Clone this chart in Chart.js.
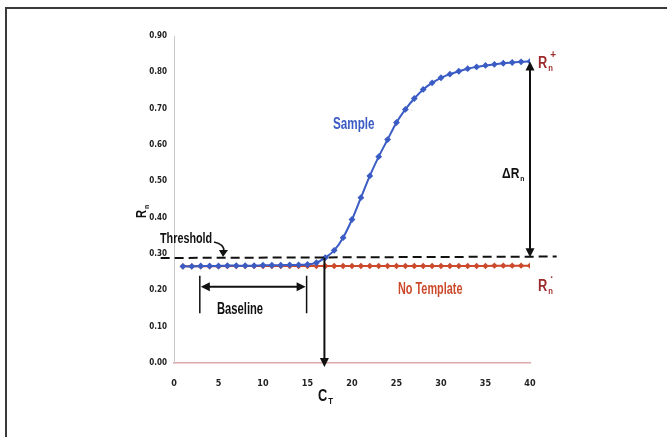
<!DOCTYPE html>
<html>
<head>
<meta charset="utf-8">
<script src="https://cdn.jsdelivr.net/npm/chart.js@4.4.1/dist/chart.umd.min.js"></script>
<style>
  body { margin: 0; background: #fff; overflow: hidden; }
  #wrap { position: relative; width: 667px; height: 437px; }
  #frame { position: absolute; left: 5px; top: 7px; width: 680px; height: 440px; border: 2px solid #3a3a3a; box-sizing: border-box; }
  canvas { position: absolute; left: 0; top: 0; }
</style>
</head>
<body>
<div id="wrap">
  <div id="frame"></div>
  <canvas id="c" width="667" height="437"></canvas>
</div>
<script>
// ============ DATA ============
const CYCLES = [1,2,3,4,5,6,7,8,9,10,11,12,13,14,15,16,17,18,19,20,21,22,23,24,25,26,27,28,29,30,31,32,33,34,35,36,37,38,39,40];
const SAMPLE = [0.266,0.266,0.267,0.267,0.267,0.268,0.268,0.268,0.268,0.269,0.269,0.269,0.270,0.270,0.271,0.276,0.290,0.310,0.345,0.395,0.455,0.515,0.568,0.615,0.662,0.698,0.728,0.753,0.771,0.785,0.795,0.803,0.810,0.815,0.819,0.822,0.825,0.827,0.829,0.830];
const NO_TEMPLATE = [0.266,0.266,0.266,0.266,0.266,0.267,0.267,0.267,0.267,0.267,0.267,0.267,0.267,0.267,0.267,0.267,0.267,0.267,0.267,0.267,0.267,0.267,0.267,0.267,0.267,0.267,0.267,0.267,0.267,0.267,0.267,0.267,0.267,0.267,0.267,0.268,0.268,0.268,0.268,0.268];
const THRESHOLD_X = [-1.5, 43];
const THRESHOLD_Y = [0.289, 0.293];
const Y_TICKS = [0, 0.1, 0.2, 0.3, 0.4, 0.5, 0.6, 0.7, 0.8, 0.9];
const X_TICKS = [0, 5, 10, 15, 20, 25, 30, 35, 40];
const CT = 16.9;
const BASELINE = [2.9, 14.9];

const FONT = '"DejaVu Sans Condensed", "Liberation Sans", sans-serif';
const TFONT = '"Liberation Sans", Arial, sans-serif';
const BLUE = "#3a5cc4";
const RED = "#cc4a2c";
const DARKRED = "#9e2b2b";

function pts(xs, ys) { return xs.map((x, i) => ({ x, y: ys[i] })); }

// ============ ANNOTATIONS ============
function arrowHead(ctx, x, y, dir) {
  ctx.beginPath();
  const s = 9, w = 4.5;
  if (dir === "down") { ctx.moveTo(x, y); ctx.lineTo(x - w, y - s); ctx.lineTo(x + w, y - s); }
  if (dir === "up") { ctx.moveTo(x, y); ctx.lineTo(x - w, y + s); ctx.lineTo(x + w, y + s); }
  if (dir === "left") { ctx.moveTo(x, y); ctx.lineTo(x + s, y - w); ctx.lineTo(x + s, y + w); }
  if (dir === "right") { ctx.moveTo(x, y); ctx.lineTo(x - s, y - w); ctx.lineTo(x - s, y + w); }
  ctx.closePath();
  ctx.fill();
}

// narrow bold text, squeezed horizontally; x is the left edge
function narrow(ctx, text, x, y, size, color, sx) {
  ctx.save();
  ctx.translate(x, y);
  ctx.scale(sx, 1);
  ctx.fillStyle = color;
  ctx.textAlign = "left";
  ctx.textBaseline = "alphabetic";
  ctx.font = "bold " + size + "px " + TFONT;
  ctx.fillText(text, 0, 0);
  const w = ctx.measureText(text).width * sx;
  ctx.restore();
  return w;
}

function subText(ctx, base, sub, sup, x, y, size, color) {
  const w = narrow(ctx, base, x, y, size, color, 0.8);
  const small = Math.round(size * 0.55);
  if (sub) narrow(ctx, sub, x + w + 1, y + 3, small, color, 0.85);
  if (sup) narrow(ctx, sup, x + w + 3, y - size * 0.6, small + 2, color, 0.9);
}

const annotations = {
  id: "annotations",
  afterDatasetsDraw(chart) {
    const { ctx, scales: { x, y } } = chart;
    ctx.save();
    ctx.strokeStyle = "#111";
    ctx.fillStyle = "#111";
    ctx.lineWidth = 2;

    // Ct arrow
    const cx = x.getPixelForValue(CT);
    ctx.beginPath();
    ctx.moveTo(cx, y.getPixelForValue(0.29));
    ctx.lineTo(cx, y.getPixelForValue(0) - 4);
    ctx.stroke();
    arrowHead(ctx, cx, y.getPixelForValue(0) + 4, "down");

    // Delta Rn arrow
    const dx = x.getPixelForValue(40);
    const yTop = y.getPixelForValue(SAMPLE[SAMPLE.length - 1]);
    const yBot = y.getPixelForValue(0.291);
    ctx.beginPath();
    ctx.moveTo(dx, yTop + 6);
    ctx.lineTo(dx, yBot - 6);
    ctx.stroke();
    arrowHead(ctx, dx, yTop, "up");
    arrowHead(ctx, dx, yBot, "down");

    // Baseline bracket
    const b1 = x.getPixelForValue(BASELINE[0]);
    const b2 = x.getPixelForValue(BASELINE[1]);
    const bt = y.getPixelForValue(0.24), bb = y.getPixelForValue(0.137);
    const by = y.getPixelForValue(0.21);
    ctx.lineWidth = 1.5;
    ctx.beginPath();
    ctx.moveTo(b1, bt); ctx.lineTo(b1, bb);
    ctx.moveTo(b2, bt); ctx.lineTo(b2, bb);
    ctx.stroke();
    ctx.lineWidth = 2;
    ctx.beginPath();
    ctx.moveTo(b1 + 5, by); ctx.lineTo(b2 - 5, by);
    ctx.stroke();
    arrowHead(ctx, b1 + 1, by, "left");
    arrowHead(ctx, b2 - 1, by, "right");

    // Threshold label with hook arrow
    narrow(ctx, "Threshold", 160, 243, 15, "#111", 0.72);
    ctx.lineWidth = 1.5;
    ctx.beginPath();
    ctx.moveTo(214, 242);
    ctx.quadraticCurveTo(224, 244, 224, 251);
    ctx.stroke();
    ctx.beginPath();
    ctx.moveTo(223, 257); ctx.lineTo(219, 250); ctx.lineTo(228, 250);
    ctx.closePath(); ctx.fill();

    // Text labels
    narrow(ctx, "Baseline", 217, 314, 16, "#111", 0.7);
    narrow(ctx, "Sample", 333, 129, 16, BLUE, 0.73);
    narrow(ctx, "No Template", 398, 294, 16, RED, 0.68);

    subText(ctx, "\u0394R", "n", null, 502, 178, 15, "#111");
    subText(ctx, "C", "T", null, 318, 401, 16, "#111");
    subText(ctx, "R", "n", "+", 538, 68, 16, DARKRED);
    subText(ctx, "R", "n", "\u00b7", 538, 291, 16, DARKRED);

    // y axis title
    ctx.save();
    ctx.translate(146, 218);
    ctx.rotate(-Math.PI / 2);
    subText(ctx, "R", "n", null, 0, 0, 14, "#111");
    ctx.restore();

    ctx.restore();
  }
};

// ============ CHART ============
new Chart(document.getElementById("c"), {
  type: "line",
  plugins: [annotations],
  data: {
    datasets: [
      {
        label: "No Template",
        data: pts(CYCLES, NO_TEMPLATE),
        borderColor: RED,
        backgroundColor: RED,
        borderWidth: 2,
        pointRadius: 1.8,
        pointStyle: "rectRot",
        order: 3
      },
      {
        label: "Sample",
        data: pts(CYCLES, SAMPLE),
        borderColor: BLUE,
        backgroundColor: BLUE,
        borderWidth: 2,
        pointRadius: 2,
        pointStyle: "rectRot",
        tension: 0.3,
        order: 2
      },
      {
        label: "Threshold",
        data: pts(THRESHOLD_X, THRESHOLD_Y),
        borderColor: "#111",
        borderWidth: 2,
        borderDash: [9, 5],
        pointRadius: 0,
        clip: false,
        order: 1
      }
    ]
  },
  options: {
    responsive: false,
    animation: false,
    layout: { padding: { left: 0, right: 137, top: 36, bottom: 44 } },
    plugins: { legend: { display: false }, tooltip: { enabled: false } },
    scales: {
      x: {
        type: "linear",
        min: 0,
        max: 40,
        afterBuildTicks: s => { s.ticks = X_TICKS.map(v => ({ value: v })); },
        afterFit: s => { s.height = 30; },
        grid: { display: false, drawTicks: true, tickLength: 3, color: "#d9a3a3" },
        border: { color: "#dba7a7", width: 1.5 },
        ticks: { color: "#222", font: { family: FONT, size: 9, weight: "bold" }, padding: 12, maxRotation: 0 }
      },
      y: {
        min: 0,
        max: 0.9,
        afterBuildTicks: s => { s.ticks = Y_TICKS.map(v => ({ value: v })); },
        afterFit: s => { s.width = 174; },
        grid: { display: false, tickLength: 3 },
        border: { color: "#c9c9c9", width: 1 },
        ticks: {
          color: "#222",
          font: { family: FONT, size: 8, weight: "bold" },
          padding: 4,
          callback: v => v.toFixed(2)
        }
      }
    }
  }
});
</script>
</body>
</html>
